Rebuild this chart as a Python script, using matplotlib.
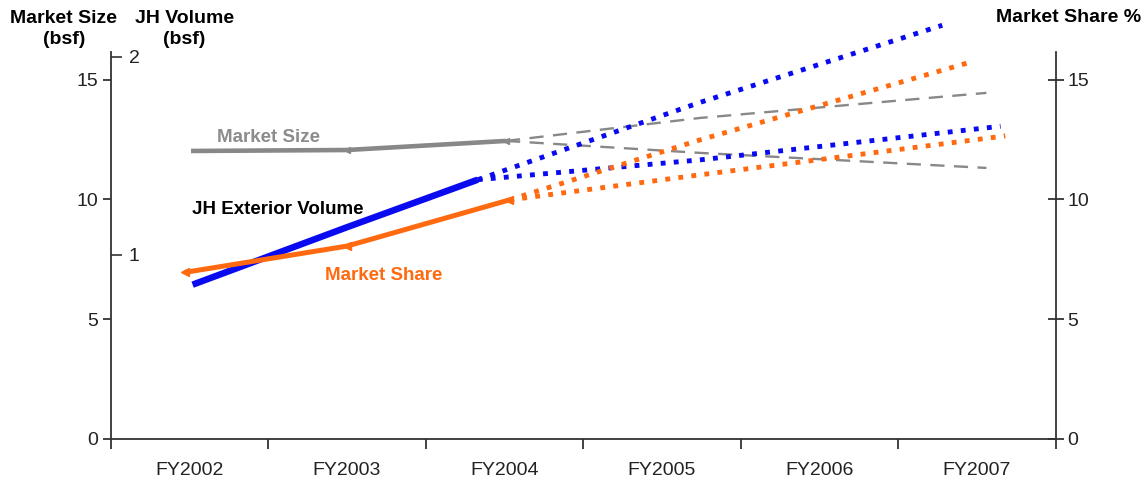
import matplotlib
matplotlib.use("Agg")
import matplotlib.pyplot as plt

plt.rcParams["font.family"] = ["Liberation Sans", "DejaVu Sans"]

# categories
years = ["FY2002", "FY2003", "FY2004", "FY2005", "FY2006", "FY2007"]

# Market Size (bsf), left axis
size_x = [0.01, 1.0, 2.01]
size_vals = [12.03, 12.07, 12.45]
size_fc_x = [2.01, 3.24, 5.06]
size_hi = [12.45, 13.41, 14.46]
size_lo = [12.45, 11.95, 11.32]

# JH Exterior Volume (bsf), inner left axis
vol_x = [0.02, 1.0, 1.83]
vol_vals = [0.85, 1.14, 1.38]
vol_hi_x = [1.83, 3.24, 4.78]
vol_hi = [1.38, 1.77, 2.16]
vol_lo_x = [1.83, 3.24, 5.15]
vol_lo = [1.38, 1.48, 1.65]

# Market Share %, right axis
share_x = [-0.03, 1.0, 2.03]
share_vals = [6.95, 8.05, 9.98]
share_hi_x = [2.03, 3.24, 4.94]
share_hi = [9.98, 12.49, 15.71]
share_lo_x = [2.03, 3.24, 5.18]
share_lo = [9.98, 11.03, 12.66]

BLUE = "#0a0af0"
ORANGE = "#ff6a10"
GRAY = "#888888"
AXC = "#333333"
DOTS = (1, 1.7)

fig = plt.figure(figsize=(11.46, 4.92), dpi=100)
ax = fig.add_axes([0.0966, 0.1087, 0.8246, 0.7856])
ax_vol = ax.twinx()
ax_share = ax.twinx()

# market size
ax.plot(size_x, size_vals, color=GRAY, lw=3.3, solid_capstyle="butt",
        marker="<", ms=5, markevery=[1, 2])
ax.plot(size_fc_x, size_hi, color=GRAY, lw=1.7, dashes=(6, 4))
ax.plot(size_fc_x, size_lo, color=GRAY, lw=1.7, dashes=(6, 4))

# JH volume
ax_vol.plot(vol_x, vol_vals, color=BLUE, lw=4.7, solid_capstyle="butt")
ax_vol.plot(vol_hi_x, vol_hi, color=BLUE, lw=3.5, dashes=DOTS,
            dash_capstyle="butt", clip_on=False)
ax_vol.plot(vol_lo_x, vol_lo, color=BLUE, lw=3.5, dashes=DOTS,
            dash_capstyle="butt")

# market share
ax_share.plot(share_x, share_vals, color=ORANGE, lw=3.6, solid_capstyle="butt",
              marker="<", ms=6, markevery=[0, 1, 2])
ax_share.plot(share_hi_x, share_hi, color=ORANGE, lw=3.5, dashes=DOTS,
              dash_capstyle="butt")
ax_share.plot(share_lo_x, share_lo, color=ORANGE, lw=3.5, dashes=DOTS,
              dash_capstyle="butt")

# axes limits
ax.set_xlim(-0.5, 5.5)
ax.set_ylim(0, 16.17)
ax_share.set_ylim(0, 16.17)
ax_vol.set_ylim(0.073, 2.025)

for a in (ax, ax_vol, ax_share):
    for s in a.spines.values():
        s.set_visible(False)
        s.set_color(AXC)
        s.set_linewidth(1.3)
ax.spines["left"].set_visible(True)
ax.spines["bottom"].set_visible(True)
ax_share.spines["right"].set_visible(True)

# x axis: ticks at boundaries, labels at centres
ax.set_xticks([i - 0.5 for i in range(len(years) + 1)])
ax.set_xticklabels([])
ax.set_xticks(range(len(years)), minor=True)
ax.set_xticklabels(years, minor=True)
ax.tick_params(axis="x", which="major", direction="out", length=7.5,
               width=1.3, color=AXC)
ax.tick_params(axis="x", which="minor", length=0, pad=17, labelsize=14,
               labelcolor="#222222")

# left axis
ax.set_yticks([0, 5, 10, 15])
ax.tick_params(axis="y", direction="out", length=6, width=1.3, color=AXC,
               pad=3, labelsize=14, labelcolor="#222222")

# inner left axis for volume
ax_vol.yaxis.set_ticks_position("left")
ax_vol.set_yticks([1, 2])
ax_vol.tick_params(axis="y", direction="in", length=8, width=1.2,
                   color=AXC, pad=-13, labelsize=14, labelcolor="#222222",
                   labelleft=True, labelright=False)
for lab in ax_vol.get_yticklabels():
    lab.set_horizontalalignment("left")

# right axis
ax_share.set_yticks([0, 5, 10, 15])
ax_share.tick_params(axis="y", direction="inout", length=11, width=1.3,
                     color=AXC, pad=3, labelsize=14, labelcolor="#222222")

# series labels
ax.text(0.175, 12.6, "Market Size", color="#8c8c8c", fontsize=13.5,
        fontweight="bold", va="center", ha="left")
ax.text(0.016, 9.6, "JH Exterior Volume", color="black", fontsize=13.5,
        fontweight="bold", va="center", ha="left")
ax.text(0.86, 6.8, "Market Share", color=ORANGE, fontsize=13.5,
        fontweight="bold", va="center", ha="left")

# axis titles
fig.text(0.0558, 0.941, "Market Size\n(bsf)", ha="center", va="center",
         fontsize=14, fontweight="bold", linespacing=1.35)
fig.text(0.161, 0.941, "JH Volume\n(bsf)", ha="center", va="center",
         fontsize=14, fontweight="bold", linespacing=1.35)
fig.text(0.932, 0.965, "Market Share %", ha="center", va="center",
         fontsize=14, fontweight="bold")

fig.savefig("out.png", dpi=100)
